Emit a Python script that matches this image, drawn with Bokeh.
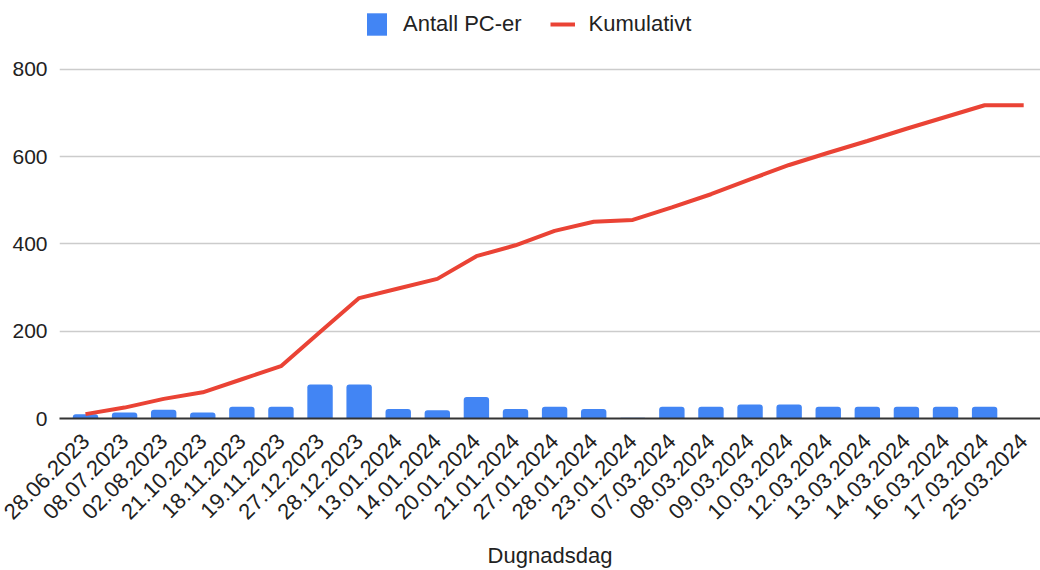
import math
from bokeh.plotting import figure
from bokeh.models import Range1d, FixedTicker, ColumnDataSource
from bokeh.embed import file_html
from bokeh.resources import INLINE

# ---- data ----
dates = ["28.06.2023", "08.07.2023", "02.08.2023", "21.10.2023", "18.11.2023",
         "19.11.2023", "27.12.2023", "28.12.2023", "13.01.2024", "14.01.2024",
         "20.01.2024", "21.01.2024", "27.01.2024", "28.01.2024", "23.01.2024",
         "07.03.2024", "08.03.2024", "09.03.2024", "10.03.2024", "12.03.2024",
         "13.03.2024", "14.03.2024", "16.03.2024", "17.03.2024", "25.03.2024"]
antall = [10, 14, 20, 14, 27, 27, 78, 78, 22, 19, 49, 22, 27, 22, 2,
          27, 27, 32, 32, 27, 27, 27, 27, 27, 0]
kumulativt = [10, 25, 45, 60, 90, 120, 198, 276, 298, 320, 372, 397, 430, 451, 455,
              484, 514, 548, 581, 609, 636, 664, 691, 718, 718]
y_ticks = [0, 200, 400, 600, 800]

FONT = "Liberation Sans"
BLUE = "#4285F4"
RED = "#EA4335"

idx = list(range(len(dates)))
src = ColumnDataSource(dict(x=idx, antall=antall, kum=kumulativt))

p = figure(width=1040, height=570, output_backend="svg", toolbar_location=None,
           x_range=Range1d(-0.665, 24.43), y_range=Range1d(0, 958),
           min_border_left=59, min_border_right=0, min_border_top=0,
           min_border_bottom=152)
p.outline_line_color = None
p.background_fill_color = "white"
p.border_fill_color = "white"

p.vbar(x="x", top="antall", width=0.65, bottom=0, source=src,
       fill_color=BLUE, line_color=None, border_radius=[3, 3, 0, 0],
       legend_label="Antall PC-er")
p.line(x="x", y="kum", source=src, line_color=RED, line_width=4,
       legend_label="Kumulativt")

# grid
p.xgrid.visible = False
p.ygrid.grid_line_color = "#cccccc"
p.ygrid.grid_line_width = 1.3
p.ygrid.ticker = FixedTicker(ticks=y_ticks[1:])

# y axis
p.yaxis.ticker = FixedTicker(ticks=y_ticks)
p.yaxis.axis_line_color = None
p.yaxis.major_tick_line_color = None
p.yaxis.minor_tick_line_color = None
p.yaxis.major_tick_in = 0
p.yaxis.major_tick_out = 0
p.yaxis.major_label_standoff = 12
p.yaxis.major_label_text_font = FONT
p.yaxis.major_label_text_font_size = "21px"
p.yaxis.major_label_text_color = "#222222"

# x axis
p.xaxis.ticker = FixedTicker(ticks=idx)
p.xaxis.major_label_overrides = {i: d for i, d in enumerate(dates)}
p.xaxis.major_label_orientation = math.pi / 4
p.xaxis.axis_line_color = "#333333"
p.xaxis.axis_line_width = 2
p.xaxis.major_tick_line_color = None
p.xaxis.minor_tick_line_color = None
p.xaxis.major_tick_in = 0
p.xaxis.major_tick_out = 0
p.xaxis.major_label_standoff = 19
p.xaxis.major_label_text_font = FONT
p.xaxis.major_label_text_font_size = "22px"
p.xaxis.major_label_text_color = "#222222"
p.xaxis.major_label_text_line_height = 1.0
p.xaxis.axis_label = "Dugnadsdag"
p.xaxis.axis_label_text_font = FONT
p.xaxis.axis_label_text_font_size = "22px"
p.xaxis.axis_label_text_font_style = "normal"
p.xaxis.axis_label_text_color = "#222222"
p.xaxis.axis_label_text_line_height = 1.0
p.xaxis.axis_label_standoff = 14

# legend
lg = p.legend[0]
lg.orientation = "horizontal"
lg.location = (305, 380)
lg.padding = 0
lg.margin = 0
lg.spacing = 28
lg.border_line_color = None
lg.background_fill_alpha = 0
lg.glyph_width = 25
lg.glyph_height = 28
lg.label_standoff = 14
lg.label_text_font = FONT
lg.label_text_font_size = "22px"
lg.label_text_color = "#222222"
lg.click_policy = "none"

open("out.html", "w").write(file_html(p, INLINE))
